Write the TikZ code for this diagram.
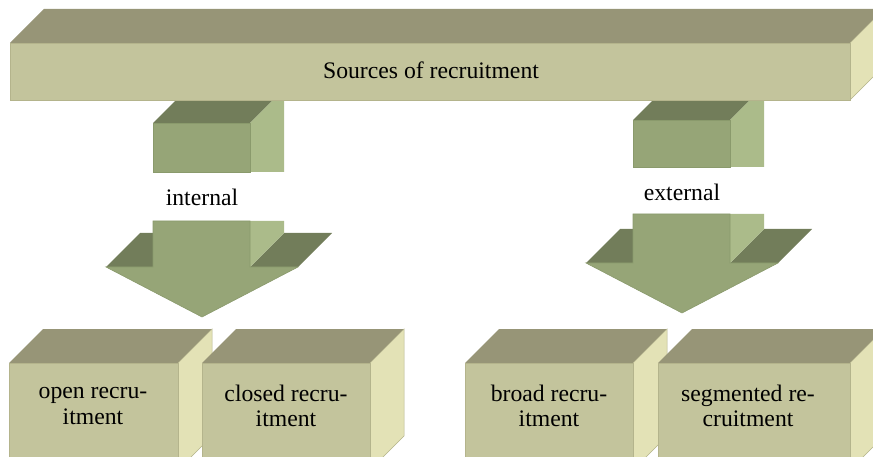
\documentclass[tikz,border=0pt]{standalone}
\usepackage{fontspec}
\setmainfont{Liberation Serif}
\definecolor{barfront}{HTML}{C3C49C}
\definecolor{bartop}{HTML}{979577}
\definecolor{barside}{HTML}{E3E2B6}
\definecolor{barline}{HTML}{B4B48C}
\definecolor{arrfront}{HTML}{96A577}
\definecolor{arrtop}{HTML}{727D5A}
\definecolor{arrside}{HTML}{ABBB8A}
\definecolor{arrline}{HTML}{8A9A6C}
\tikzset{
  cubfront/.style={fill=barfront,draw=barline,line width=0.8pt,line join=miter},
  cubtop/.style={fill=bartop},
  cubside/.style={fill=barside,draw=barline,line width=0.5pt},
  afront/.style={fill=arrfront,draw=arrline,line width=0.6pt},
  atop/.style={fill=arrtop},
  aside/.style={fill=arrside},
  lbl/.style={font=\fontsize{23.7}{25.5}\selectfont,text=black,inner sep=0pt,align=center}
}
% cuboid: x1 y1 x2 y2 (front face), depth 34
\newcommand\mycuboid[4]{%
  \fill[cubtop] (#1,#2) -- (#1+34,#2-34) -- (#3+34,#2-34) -- (#3,#2) -- cycle;
  \filldraw[cubside] (#3,#2) -- (#3+34,#2-34) -- (#3+34,#4-34) -- (#3,#4) -- cycle;
  \filldraw[cubfront] (#1,#2) rectangle (#3,#4);
}
% stub: L R top bottom
\newcommand\mystub[4]{%
  \fill[atop] (#1,#3) -- (#1+34,#3-34) -- (#2+34,#3-34) -- (#2,#3) -- cycle;
  \fill[aside] (#2,#3) -- (#2+34,#3-34) -- (#2+34,#4) -- (#2,#4) -- cycle;
  \fill[afront] (#1,#3) rectangle (#2,#4);
}
% arrow head: L R shafttop wingy wingL wingR tipx tipy
\newcommand\myhead[8]{%
  \fill[atop] (#5,#4) -- (#1,#4) -- (#1+34,#4-34) -- (#5+34,#4-34) -- cycle;
  \fill[atop] (#2,#4) -- (#6,#4) -- (#6+34,#4-34) -- (#2+34,#4-34) -- cycle;
  \fill[aside] (#2,#3) -- (#2+34,#3) -- (#2+34,#4-34) -- (#2,#4) -- cycle;
  \fill[afront] (#1,#3) -- (#2,#3) -- (#2,#4) -- (#6,#4) -- (#7,#8) -- (#5,#4) -- (#1,#4) -- cycle;
}
\begin{document}
\begin{tikzpicture}[x=1pt,y=-1pt]
\useasboundingbox (0,0) rectangle (873,457);
\begin{scope}
\clip (0,0) rectangle (873,457);
% stubs under the bar
\mystub{153}{250}{123}{172}
\mystub{633}{730}{120}{167}
% top bar
\mycuboid{10}{43}{850}{100}
% arrow heads
\myhead{153}{250}{221}{267}{106}{298}{202}{317}
\myhead{633}{730}{214}{263}{586}{778}{682}{313}
% bottom boxes
\mycuboid{9}{363}{178}{470}
\mycuboid{202}{363}{370}{470}
\mycuboid{465}{363}{633}{470}
\mycuboid{658}{363}{850}{470}
\end{scope}
\node[lbl] (src) at (431,70) {Sources of recruitment};
\node[lbl] (int) at (202,197) {internal};
\node[lbl] (ext) at (682,192) {external};
\node[lbl] (open) at (93,406) {open recru-\\itment};
\node[lbl] (closed) at (286,406) {closed recru-\\itment};
\node[lbl] (broad) at (549,406) {broad recru-\\itment};
\node[lbl] (seg) at (748,406) {segmented re-\\cruitment};
\end{tikzpicture}
\end{document}
